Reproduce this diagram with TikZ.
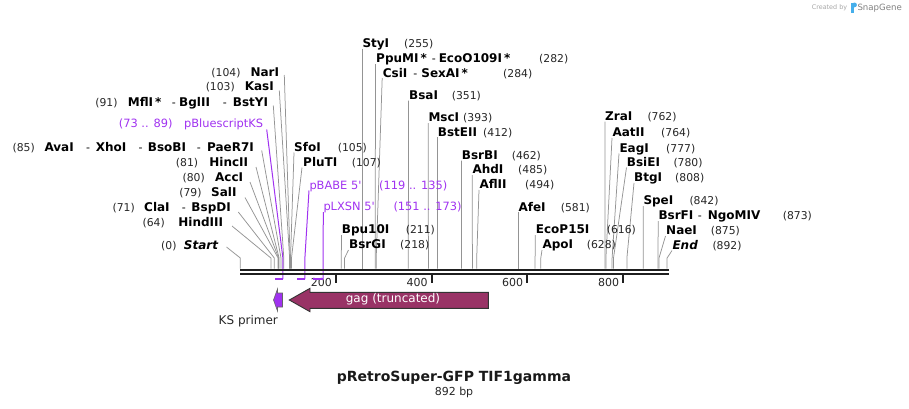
\documentclass[tikz,border=0pt]{standalone}
\usepackage{fontspec}
\setmainfont{DejaVu Sans}
\definecolor{featpurple}{RGB}{160,50,240}
\definecolor{gagcol}{RGB}{153,51,102}
\definecolor{logoblue}{RGB}{70,175,235}
\newcommand{\rsline}[3]{%
  \coordinate (a#1) at #2;
  \coordinate (b#1) at (#3,258);
  \coordinate (s#1) at (#3,268.6);
  \draw[siteline] (a#1) -- (b#1) -- (s#1);}
\newcommand{\rfline}[3]{%
  \coordinate (a#1) at #2;
  \coordinate (b#1) at (#3,258);
  \coordinate (s#1) at (#3,279);
  \draw[featline] (a#1) -- (b#1) -- (s#1);}
\newcommand{\dsep}[2]{\hspace{#1}{\mdseries\fontsize{11}{13}\selectfont -}\hspace{#2}}
\begin{document}
\begin{tikzpicture}[x=1pt,y=-1pt,
  nm/.style={font=\fontsize{12}{14}\selectfont\bfseries, inner sep=0pt, text=black},
  nmi/.style={font=\fontsize{12}{14}\selectfont\bfseries\itshape, inner sep=0pt, text=black},
  num/.style={font=\fontsize{10.8}{13}\selectfont, inner sep=0pt, text=black!85},
  dsh/.style={font=\fontsize{11}{13}\selectfont, inner sep=0pt, text=black},
  feat/.style={font=\fontsize{11.4}{13}\selectfont, inner sep=0pt, text=featpurple},
  siteline/.style={draw=black!42, line width=0.75pt},
  featline/.style={draw=featpurple, line width=1pt},
  ruler/.style={draw=black!88, line width=2.2pt},
  tickmark/.style={draw=black!88, line width=1.6pt},
  featdash/.style={draw=featpurple, line width=2pt},
  gagarrow/.style={fill=gagcol, draw=black!80, line width=0.9pt, line join=miter},
  primer/.style={fill=featpurple, draw=black!60, line width=0.6pt},
  plain/.style={font=\fontsize{12}{14}\selectfont, inner sep=0pt, text=black!85}
]
\useasboundingbox (0,0) rectangle (909,408);

% ---------- site connectors ----------
\rsline{NarI}{(284.3,75)}{290.1}
\rsline{KasI}{(279.3,90.5)}{289.6}
\rsline{MflI}{(273.3,105.5)}{283.8}
\rsline{AvaI}{(261.7,150.5)}{281.0}
\rsline{HincII}{(256,167)}{279.1}
\rsline{AccI}{(250,182)}{278.6}
\rsline{SalI}{(245,197.5)}{278.1}
\rsline{ClaI}{(238.3,212)}{274.3}
\rsline{HindIII}{(232,226)}{270.9}
\rsline{Start}{(226.5,247)}{240.3}
\rsline{SfoI}{(294,152.5)}{290.5}
\rsline{PluTI}{(302,167.5)}{291.5}
\rsline{Bpu}{(341.5,235)}{341.3}
\rsline{BsrGI}{(348.5,250)}{344.6}
\rsline{StyI}{(362.3,48.5)}{362.3}
\rsline{PpuMI}{(375.5,64)}{375.2}
\rsline{CsiI}{(382.2,78)}{376.2}
\rsline{BsaI}{(408.5,100.5)}{408.3}
\rsline{MscI}{(428.2,123)}{428.4}
\rsline{BstEII}{(437.5,137)}{437.4}
\rsline{BsrBI}{(461.5,160.5)}{461.4}
\rsline{AhdI}{(472.2,175)}{472.4}
\rsline{AflII}{(479,190)}{476.7}
\rsline{AfeI}{(518.3,212)}{518.3}
\rsline{EcoP}{(535.3,235)}{535.1}
\rsline{ApoI}{(542,250)}{540.8}
\rsline{ZraI}{(605,121.5)}{604.9}
\rsline{AatII}{(612,138)}{605.9}
\rsline{EagI}{(619,153.5)}{612.1}
\rsline{BsiEI}{(626.5,167.5)}{613.5}
\rsline{BtgI}{(634,183)}{626.9}
\rsline{SpeI}{(643.3,206)}{643.2}
\rsline{BsrFI}{(658.2,221)}{658.0}
\rsline{NaeI}{(665.5,236)}{659.0}
\rsline{End}{(672,250.5)}{667.1}

% ---------- feature connectors ----------
\rfline{pBS}{(266.7,129.5)}{282.9}
\rfline{pBABE}{(309,190.5)}{304.9}
\rfline{pLXSN}{(323.3,212)}{323.1}

% ---------- ruler ----------
\coordinate (r0a) at (240,270.2); \coordinate (r1a) at (669,270.2);
\coordinate (r0b) at (240,274.3); \coordinate (r1b) at (669,274.3);
\draw[ruler] (r0a) -- (r1a);
\draw[ruler] (r0b) -- (r1b);
\foreach \v/\xx in {200/336.0,400/431.7,600/527.2,800/623.2}{
  \coordinate (tka\v) at (\xx,275.2);
  \coordinate (tkb\v) at (\xx,283);
  \draw[tickmark] (tka\v) -- (tkb\v);
  \node[num, anchor=base east, font=\fontsize{11}{13}\selectfont] (tk\v) at (\xx-4,286) {\v};
}

% ---------- feature dashes ----------
\coordinate (fd1a) at (275.2,279); \coordinate (fd1b) at (282.9,279);
\coordinate (fd2a) at (297.2,279); \coordinate (fd2b) at (304.9,279);
\coordinate (fd3a) at (312.6,279); \coordinate (fd3b) at (323.1,279);
\draw[featdash] (fd1a) -- (fd1b);
\draw[featdash] (fd2a) -- (fd2b);
\draw[featdash] (fd3a) -- (fd3b);

% ---------- left labels ----------
\node[num, anchor=base east] (mNarI) at (240.7,76.6) {(104)};
\node[nm, anchor=base east] (nNarI) at (279.3,76.6) {NarI};
\node[num, anchor=base east] (mKasI) at (235,90.3) {(103)};
\node[nm, anchor=base east] (nKasI) at (274,90.3) {KasI};
\node[num, anchor=base east] (mMflI) at (117.7,106) {(91)};
\node[nm, anchor=base west] (nMflI) at (127.7,106) {MflI\,*};
\node[dsh, anchor=base west] (dMflI) at (171.7,106) {-};
\node[nm, anchor=base west] (nBglII) at (179,106) {BglII};
\node[dsh, anchor=base west] (dBglII) at (222.7,106) {-};
\node[nm, anchor=base east] (nBstYI) at (268.3,106) {BstYI};
\node[feat, anchor=base east] (mpBS) at (172.7,127.5) {(73 .. 89)};
\node[feat, anchor=base east] (npBS) at (263.3,127.5) {pBluescriptKS};
\node[num, anchor=base east] (mAvaI) at (35,151) {(85)};
\node[nm, anchor=base west] (nAvaI) at (44.3,151) {AvaI};
\node[dsh, anchor=base west] (dAvaI) at (86,151) {-};
\node[nm, anchor=base west] (nXhoI) at (95.7,151) {XhoI};
\node[dsh, anchor=base west] (dXhoI) at (138.3,151) {-};
\node[nm, anchor=base west] (nBsoBI) at (147.7,151) {BsoBI};
\node[dsh, anchor=base west] (dBsoBI) at (196.7,151) {-};
\node[nm, anchor=base east] (nPaeR) at (254,151) {PaeR7I};
\node[num, anchor=base east] (mHincII) at (198.3,166) {(81)};
\node[nm, anchor=base east] (nHincII) at (248.3,166) {HincII};
\node[num, anchor=base east] (mAccI) at (205,181) {(80)};
\node[nm, anchor=base east] (nAccI) at (243.3,181) {AccI};
\node[num, anchor=base east] (mSalI) at (201.7,196.6) {(79)};
\node[nm, anchor=base east] (nSalI) at (236.7,196.6) {SalI};
\node[num, anchor=base east] (mClaI) at (135,211) {(71)};
\node[nm, anchor=base west] (nClaI) at (144,211) {ClaI};
\node[dsh, anchor=base west] (dClaI) at (181.7,211) {-};
\node[nm, anchor=base east] (nBspDI) at (231,211) {BspDI};
\node[num, anchor=base east] (mHindIII) at (165,226) {(64)};
\node[nm, anchor=base east] (nHindIII) at (223.3,226) {HindIII};
\node[num, anchor=base east] (mStart) at (176.7,249.3) {(0)};
\node[nmi, anchor=base east] (nStart) at (218.3,249.3) {Start};

% ---------- right labels ----------
\node[nm, anchor=base west] (nSfoI) at (294,151) {SfoI};
\node[num, anchor=base west] (mSfoI) at (337.7,151) {(105)};
\node[nm, anchor=base west] (nPluTI) at (303,166) {PluTI};
\node[num, anchor=base west] (mPluTI) at (351.7,166) {(107)};
\node[feat, anchor=base west] (npBABE) at (309.3,189.2) {pBABE 5\textquotesingle};
\node[feat, anchor=base west] (mpBABE) at (379,189.2) {(119 .. 135)};
\node[feat, anchor=base west] (npLXSN) at (323.3,210.9) {pLXSN 5\textquotesingle};
\node[feat, anchor=base west] (mpLXSN) at (393.3,210.9) {(151 .. 173)};
\node[nm, anchor=base west] (nBpu) at (341.7,233.6) {Bpu10I};
\node[num, anchor=base west] (mBpu) at (405.7,233.6) {(211)};
\node[nm, anchor=base west] (nBsrGI) at (349,248.6) {BsrGI};
\node[num, anchor=base west] (mBsrGI) at (400,248.6) {(218)};
\node[nm, anchor=base west] (nStyI) at (362.3,47.6) {StyI};
\node[num, anchor=base west] (mStyI) at (404,47.6) {(255)};
\node[nm, anchor=base west] (nPpuMI) at (376,62.6) {PpuMI\,*\dsep{5pt}{3pt}EcoO109I\,*};
\node[num, anchor=base west] (mPpuMI) at (539,62.6) {(282)};
\node[nm, anchor=base west] (nCsiI) at (382.7,77) {CsiI\dsep{6pt}{4pt}SexAI\,*};
\node[num, anchor=base west] (mCsiI) at (503,77) {(284)};
\node[nm, anchor=base west] (nBsaI) at (409,99.3) {BsaI};
\node[num, anchor=base west] (mBsaI) at (451.7,99.3) {(351)};
\node[nm, anchor=base west] (nMscI) at (428.3,121.6) {MscI};
\node[num, anchor=base west] (mMscI) at (463,121.6) {(393)};
\node[nm, anchor=base west] (nBstEII) at (437.7,136) {BstEII};
\node[num, anchor=base west] (mBstEII) at (483,136) {(412)};
\node[nm, anchor=base west] (nBsrBI) at (461.7,159.3) {BsrBI};
\node[num, anchor=base west] (mBsrBI) at (511.7,159.3) {(462)};
\node[nm, anchor=base west] (nAhdI) at (472.3,173.6) {AhdI};
\node[num, anchor=base west] (mAhdI) at (518,173.6) {(485)};
\node[nm, anchor=base west] (nAflII) at (479.3,188.6) {AflII};
\node[num, anchor=base west] (mAflII) at (525,188.6) {(494)};
\node[nm, anchor=base west] (nAfeI) at (518.3,211) {AfeI};
\node[num, anchor=base west] (mAfeI) at (560.7,211) {(581)};
\node[nm, anchor=base west] (nEcoP) at (535.7,233.6) {EcoP15I};
\node[num, anchor=base west] (mEcoP) at (606.7,233.6) {(616)};
\node[nm, anchor=base west] (nApoI) at (542.3,248.6) {ApoI};
\node[num, anchor=base west] (mApoI) at (586.7,248.6) {(628)};
\node[nm, anchor=base west] (nZraI) at (605,120.3) {ZraI};
\node[num, anchor=base west] (mZraI) at (647.3,120.3) {(762)};
\node[nm, anchor=base west] (nAatII) at (612.3,136.6) {AatII};
\node[num, anchor=base west] (mAatII) at (661,136.6) {(764)};
\node[nm, anchor=base west] (nEagI) at (619.3,152) {EagI};
\node[num, anchor=base west] (mEagI) at (666,152) {(777)};
\node[nm, anchor=base west] (nBsiEI) at (626.7,166) {BsiEI};
\node[num, anchor=base west] (mBsiEI) at (673.3,166) {(780)};
\node[nm, anchor=base west] (nBtgI) at (634,181.6) {BtgI};
\node[num, anchor=base west] (mBtgI) at (675,181.6) {(808)};
\node[nm, anchor=base west] (nSpeI) at (643.3,204.3) {SpeI};
\node[num, anchor=base west] (mSpeI) at (689.3,204.3) {(842)};
\node[nm, anchor=base west] (nBsrFI) at (658.3,219.3) {BsrFI\dsep{4.5pt}{6pt}NgoMIV};
\node[num, anchor=base west] (mBsrFI) at (782.7,219.3) {(873)};
\node[nm, anchor=base west] (nNaeI) at (666,234.6) {NaeI};
\node[num, anchor=base west] (mNaeI) at (710.7,234.6) {(875)};
\node[nmi, anchor=base west] (nEnd) at (672.3,249.3) {End};
\node[num, anchor=base west] (mEnd) at (712.3,249.3) {(892)};

% ---------- features ----------
\draw[gagarrow] (289.3,300) -- (310,288.3) -- (310,292.3) -- (488.3,292.3)
  -- (488.3,308.3) -- (310,308.3) -- (310,311.7) -- cycle;
\node[font=\fontsize{12}{14}\selectfont, text=white, inner sep=0pt] (gag) at (393,299.5) {gag (truncated)};
\draw[primer] (273.5,300) -- (277.5,289) -- (277.5,293) -- (282.5,293)
  -- (282.5,307) -- (277.5,307) -- (277.5,311) -- cycle;
\node[plain] (ks) at (248.3,321.5) {KS primer};

% ---------- title ----------
\node[font=\fontsize{14}{16}\selectfont\bfseries, inner sep=0pt, anchor=base, text=black!90] (title) at (454,381.7) {pRetroSuper-GFP TIF1gamma};
\node[font=\fontsize{11}{13}\selectfont, inner sep=0pt, anchor=base, text=black!85] (bp) at (454,395.7) {892 bp};

% ---------- credit ----------
\node[font=\fontsize{6.4}{8}\selectfont, inner sep=0pt, anchor=base west, text=black!35] (cby) at (811.7,9.5) {Created by};
\fill[logoblue] (851,2.5) rectangle (853.6,12.5);
\fill[logoblue] (853.6,2.5) -- (854.5,2.5) arc[start angle=90, end angle=-90, radius=2.4pt] -- (853.6,7.3) -- cycle;
\node[font=\fontsize{8.6}{10}\selectfont, inner sep=0pt, anchor=base west, text=black!50] (sg) at (857.3,10.5) {SnapGene};
\end{tikzpicture}
\end{document}
